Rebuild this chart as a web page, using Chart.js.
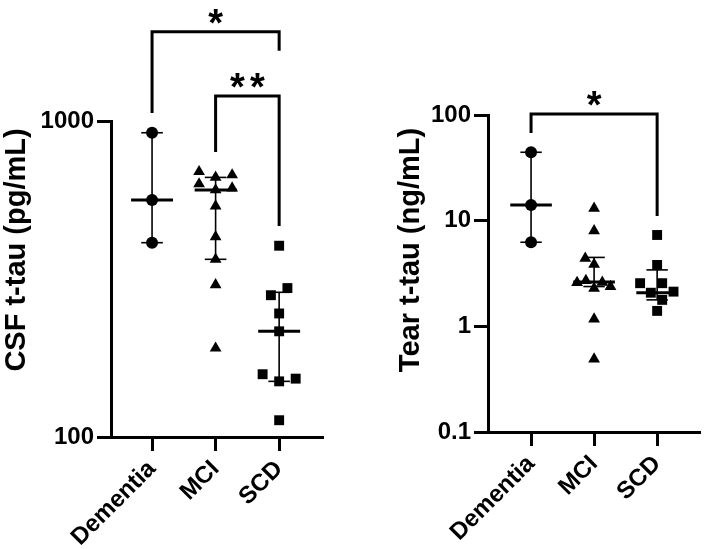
<!DOCTYPE html>
<html>
<head>
<meta charset="utf-8">
<script src="https://cdn.jsdelivr.net/npm/chart.js@4.4.1/dist/chart.umd.min.js"></script>
<style>
  body { margin: 0; background: #fff; }
  #wrap { position: relative; width: 708px; height: 549px; background: #fff; }
  canvas { position: absolute; top: 0; }
</style>
</head>
<body>
<div id="wrap">
  <canvas id="csfChart" width="354" height="549" style="left:0"></canvas>
  <canvas id="tearChart" width="354" height="549" style="left:354px"></canvas>
</div>
<script>
const groups = ['Dementia', 'MCI', 'SCD'];
const FONT = "'Liberation Sans', Arial, sans-serif";

// CSF t-tau (pg/mL)
const csfTicks = [100, 1000];
const csfDementia = [918, 562, 412];
const csfMci = [691, 663, 675, 632, 605, 613, 538, 430, 365, 303, 191];
const csfMciJitter = [-0.26, 0, 0.26, -0.26, 0, 0.26, 0, 0, 0, 0, 0];
const csfScd = [403, 281, 296, 246, 216, 158, 150, 153, 113];
const csfScdJitter = [0, -0.13, 0.13, 0, 0, -0.26, 0, 0.26, 0];
const csfMedian = [562, 605, 216];
const csfQ1 = [412, 365, 150];
const csfQ3 = [918, 663, 287];
const csfBrackets = [
  { from: 1, to: 3, top: 1915, leftEnd: 1060, rightEnd: 1667, label: '*' },
  { from: 2, to: 3, top: 1200, leftEnd: 798, rightEnd: 465, label: '**' }
];

// Tear t-tau (ng/mL)
const tearTicks = [0.1, 1, 10, 100];
const tearDementia = [44.4, 14.1, 6.25];
const tearMci = [13.1, 8.0, 4.41, 3.87, 2.59, 2.71, 2.29, 2.61, 2.38, 1.17, 0.49];
const tearMciJitter = [0, 0, -0.14, 0, -0.27, -0.13, 0, 0.13, 0.26, 0, 0];
const tearScd = [7.32, 3.81, 2.56, 2.56, 2.08, 2.13, 1.78, 1.40];
const tearScdJitter = [0, 0, -0.27, 0.08, -0.1, 0.26, 0.08, 0];
const tearMedian = [14.1, 2.63, 2.08];
const tearQ1 = [6.25, 2.38, 1.78];
const tearQ3 = [44.4, 4.49, 3.42];
const tearBrackets = [
  { from: 1, to: 3, top: 102, leftEnd: 67.6, rightEnd: 11.1, label: '*' }
];

function points(values, group, jitter) {
  return values.map((v, i) => ({ x: group + (jitter ? jitter[i] : 0), y: v }));
}

function line(ctx, x1, y1, x2, y2) {
  ctx.beginPath();
  ctx.moveTo(x1, y1);
  ctx.lineTo(x2, y2);
  ctx.stroke();
}

// median + interquartile bars, significance brackets, axis title
function makeMarks(s) {
  return {
    id: 'marks',
    beforeDatasetsDraw(chart) {
      const { ctx, scales: { x, y } } = chart;
      ctx.save();
      ctx.strokeStyle = '#000';
      for (let i = 0; i < s.median.length; i++) {
        const cx = x.getPixelForValue(i + 1);
        const yTop = y.getPixelForValue(s.q3[i]);
        const yBot = y.getPixelForValue(s.q1[i]);
        const yMed = y.getPixelForValue(s.median[i]);
        const capW = x.getPixelForValue(i + 1.17) - cx;
        const medW = x.getPixelForValue(i + 1.33) - cx;
        ctx.lineWidth = 1.6;
        line(ctx, cx, yTop, cx, yBot);
        line(ctx, cx - capW, yTop, cx + capW, yTop);
        line(ctx, cx - capW, yBot, cx + capW, yBot);
        ctx.lineWidth = 3;
        line(ctx, cx - medW, yMed, cx + medW, yMed);
      }
      ctx.restore();
    },
    afterDraw(chart) {
      const { ctx, scales: { x, y } } = chart;
      ctx.save();
      ctx.strokeStyle = '#000';
      ctx.fillStyle = '#000';
      ctx.lineWidth = 3;
      ctx.lineJoin = 'miter';
      s.brackets.forEach(b => {
        const x1 = x.getPixelForValue(b.from);
        const x2 = x.getPixelForValue(b.to);
        const yt = y.getPixelForValue(b.top);
        ctx.beginPath();
        ctx.moveTo(x1, y.getPixelForValue(b.leftEnd));
        ctx.lineTo(x1, yt);
        ctx.lineTo(x2, yt);
        ctx.lineTo(x2, y.getPixelForValue(b.rightEnd));
        ctx.stroke();
        ctx.font = 'bold 38px ' + FONT;
        ctx.textAlign = 'center';
        ctx.textBaseline = 'alphabetic';
        const n = b.label.length;
        const mid = (x1 + x2) / 2;
        for (let k = 0; k < n; k++) {
          ctx.fillText('*', mid + (k - (n - 1) / 2) * 20, yt - 18 + 22);
        }
      });
      ctx.translate(s.titleX, s.titleY);
      ctx.rotate(-Math.PI / 2);
      ctx.font = 'bold 29px ' + FONT;
      ctx.textAlign = 'center';
      ctx.textBaseline = 'middle';
      ctx.fillText(s.title, 0, 0);
      ctx.restore();
    }
  };
}

function axisStyle() {
  return {
    grid: { drawOnChartArea: false, tickLength: 14, tickWidth: 3, tickColor: '#000' },
    border: { color: '#000', width: 3 }
  };
}

function makePanel(id, p) {
  const common = { backgroundColor: '#000', borderColor: '#000', borderWidth: 0 };
  return new Chart(document.getElementById(id), {
    type: 'scatter',
    data: {
      datasets: [
        Object.assign({ data: points(p.dementia, 1), pointStyle: 'circle', pointRadius: 6 }, common),
        Object.assign({ data: points(p.mci, 2, p.mciJitter), pointStyle: 'triangle', pointRadius: 6.8 }, common),
        Object.assign({ data: points(p.scd, 3, p.scdJitter), pointStyle: 'rect', pointRadius: 7 }, common)
      ]
    },
    options: {
      responsive: false,
      animation: false,
      devicePixelRatio: 1,
      events: [],
      layout: { padding: { left: 0, right: p.padRight, top: p.padTop, bottom: 0 } },
      plugins: { legend: { display: false }, tooltip: { enabled: false } },
      scales: {
        x: Object.assign({
          type: 'linear',
          min: p.xMin,
          max: p.xMax,
          afterBuildTicks: s => { s.ticks = groups.map((g, i) => ({ value: i + 1 })); },
          afterFit: s => { s.height = p.xHeight; },
          ticks: {
            callback: (v, i) => groups[i],
            minRotation: 45,
            maxRotation: 45,
            padding: 4,
            color: '#000',
            font: { family: FONT, size: 24, weight: 'bold' }
          }
        }, axisStyle()),
        y: Object.assign({
          type: 'logarithmic',
          min: p.yTicks[0],
          max: p.yTicks[p.yTicks.length - 1],
          afterBuildTicks: s => { s.ticks = p.yTicks.map(v => ({ value: v })); },
          afterFit: s => { s.width = p.yWidth; },
          ticks: {
            callback: v => String(v),
            padding: 3,
            color: '#000',
            font: { family: FONT, size: 24, weight: 'bold' }
          }
        }, axisStyle())
      }
    },
    plugins: [makeMarks({
      median: p.median, q1: p.q1, q3: p.q3, brackets: p.brackets,
      title: p.title, titleX: p.titleX, titleY: p.titleY
    })]
  });
}

makePanel('csfChart', {
  dementia: csfDementia, mci: csfMci, mciJitter: csfMciJitter, scd: csfScd, scdJitter: csfScdJitter,
  median: csfMedian, q1: csfQ1, q3: csfQ3, brackets: csfBrackets, yTicks: csfTicks,
  title: 'CSF t-tau (pg/mL)', titleX: 17, titleY: 250,
  xMin: 0.354, xMax: 3.69, yWidth: 111, xHeight: 112, padTop: 121, padRight: 31
});

makePanel('tearChart', {
  dementia: tearDementia, mci: tearMci, mciJitter: tearMciJitter, scd: tearScd, scdJitter: tearScdJitter,
  median: tearMedian, q1: tearQ1, q3: tearQ3, brackets: tearBrackets, yTicks: tearTicks,
  title: 'Tear t-tau (ng/mL)', titleX: 57, titleY: 250,
  xMin: 0.317, xMax: 3.68, yWidth: 134, xHeight: 117, padTop: 115, padRight: 8
});
</script>
</body>
</html>
